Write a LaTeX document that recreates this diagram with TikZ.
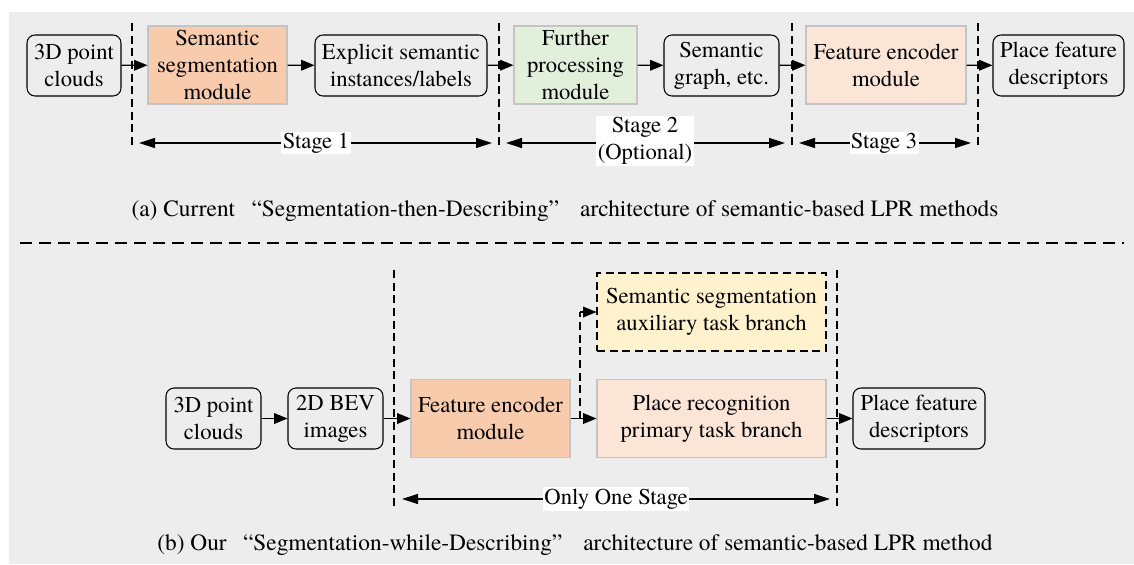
\documentclass[tikz,border=0pt]{standalone}
\usepackage{fontspec}
\setmainfont{texgyretermes}[Extension=.otf, UprightFont=*-regular, BoldFont=*-bold, ItalicFont=*-italic, BoldItalicFont=*-bolditalic]
\usetikzlibrary{arrows.meta}
\definecolor{bgc}{HTML}{EDEDED}
\definecolor{orangeA}{HTML}{F8CBAD}
\definecolor{greenA}{HTML}{E2EFDA}
\definecolor{peachA}{HTML}{FBE5D6}
\definecolor{yellowA}{HTML}{FFF2CC}
\definecolor{edgegray}{HTML}{C4C4C4}
\tikzset{
  bw/.style={minimum width=#1*0.75pt},
  bh/.style={minimum height=#1*0.75pt},
  txt/.style={font=\rmfamily\fontsize{17}{20.25}\selectfont, align=center, inner sep=0pt},
  rbox/.style={txt, draw=black, line width=0.8pt, rounded corners=6pt},
  fbox/.style={txt, draw=edgegray, line width=0.8pt},
  conn/.style={line width=0.9pt, -{Triangle[length=10pt,width=8pt]}},
  stagearr/.style={line width=0.9pt, {Triangle[length=12pt,width=7.5pt]}-{Triangle[length=12pt,width=7.5pt]}},
  vdash/.style={line width=0.8pt, dash pattern=on 6pt off 3.5pt},
  hdash/.style={line width=1pt, dash pattern=on 9pt off 5.25pt},
  lbl/.style={txt, fill=white, inner sep=1pt},
  captext/.style={font=\rmfamily\fontsize{17.5}{21}\selectfont, inner sep=0pt}
}
\begin{document}
\begin{tikzpicture}[x=0.75pt,y=-0.75pt]
\useasboundingbox (0,0) rectangle (1134,564);
\fill[bgc] (9,12) rectangle (1134,564);

% ---------- (a) ----------
\node[rbox, bw=94, bh=61] (a1) at (74,65.5) {3D point\\clouds};
\node[fbox, fill=orangeA, bw=139, bh=78] (a2) at (217.5,65) {Semantic\\segmentation\\module};
\node[rbox, bw=172, bh=61] (a3) at (401,65.5) {Explicit semantic\\instances/labels};
\node[fbox, fill=greenA, bw=123, bh=78] (a4) at (575.5,65) {Further\\processing\\module};
\node[rbox, bw=115, bh=61] (a5) at (721.5,65.5) {Semantic\\graph, etc.};
\node[fbox, fill=peachA, bw=160, bh=78] (a6) at (886,65) {Feature encoder\\module};
\node[rbox, bw=131, bh=61] (a7) at (1058.5,65.5) {Place feature\\descriptors};

\foreach \s/\t in {a1/a2,a2/a3,a3/a4,a4/a5,a5/a6,a6/a7}
  \draw[conn] (\s) -- (\t);

\coordinate (d1t) at (132,23); \coordinate (d1b) at (132,149);
\coordinate (d2t) at (499,23); \coordinate (d2b) at (499,149);
\coordinate (d3t) at (792,23); \coordinate (d3b) at (792,149);
\coordinate (d4t) at (978,23); \coordinate (d4b) at (978,149);
\draw[vdash] (d1t) -- (d1b);
\draw[vdash] (d2t) -- (d2b);
\draw[vdash] (d3t) -- (d3b);
\draw[vdash] (d4t) -- (d4b);

\coordinate (s1l) at (139,143); \coordinate (s1r) at (492,143);
\coordinate (s2l) at (506,143); \coordinate (s2r) at (785,143);
\coordinate (s3l) at (799,143); \coordinate (s3r) at (971,143);
\draw[stagearr] (s1l) -- (s1r);
\draw[stagearr] (s2l) -- (s2r);
\draw[stagearr] (s3l) -- (s3r);
\node[lbl] (st1) at (316,143) {Stage 1};
\node[lbl] (st2) at (645,141) {Stage 2\\(Optional)};
\node[lbl] (st3) at (884,143) {Stage 3};

\node[captext] (capa) at (565,211) {(a) Current\hspace{0.7em}“Segmentation-then-Describing”\hspace{0.9em}architecture of semantic-based LPR methods};

\coordinate (sepl) at (20,243); \coordinate (sepr) at (1124,243);
\draw[hdash] (sepl) -- (sepr);

% ---------- (b) ----------
\node[rbox, bw=95, bh=61] (b1) at (213.5,418.5) {3D point\\clouds};
\node[rbox, bw=95, bh=61] (b2) at (335.5,418.5) {2D BEV\\images};
\node[fbox, fill=orangeA, bw=159, bh=78] (b3) at (490.5,418.5) {Feature encoder\\module};
\node[fbox, fill=peachA, bw=229, bh=78] (b4) at (711.5,418.5) {Place recognition\\primary task branch};
\node[txt, draw=black, fill=yellowA, line width=0.8pt, dash pattern=on 6pt off 3.5pt, bw=229, bh=78] (b5) at (711.5,312) {Semantic segmentation\\auxiliary task branch};
\node[rbox, bw=132, bh=61] (b6) at (919,418.5) {Place feature\\descriptors};

\draw[conn] (b1) -- (b2);
\draw[conn] (b2) -- (b3);
\draw[conn] (b3) -- (b4);
\draw[conn] (b4) -- (b6);
\coordinate (br) at (580,418.5);
\coordinate (bu) at (580,312);
\draw[vdash] (br) -- (bu);
\draw[conn] (bu) -- (b5.west);

\coordinate (e1t) at (394,270); \coordinate (e1b) at (394,507);
\coordinate (e2t) at (837,270); \coordinate (e2b) at (837,507);
\draw[vdash] (e1t) -- (e1b);
\draw[vdash] (e2t) -- (e2b);

\coordinate (ol) at (402,499); \coordinate (or) at (830,499);
\draw[stagearr] (ol) -- (or);
\node[lbl] (one) at (616,499) {Only One Stage};

\node[captext] (capb) at (575,545) {(b) Our\hspace{0.7em}“Segmentation-while-Describing”\hspace{0.9em}architecture of semantic-based LPR method};
\end{tikzpicture}
\end{document}
